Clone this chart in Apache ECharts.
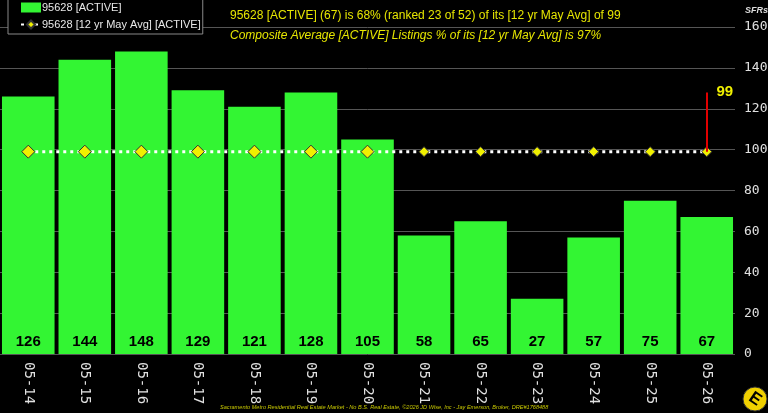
<!DOCTYPE html>
<html>
<head>
<meta charset="utf-8">
<script src="https://cdn.jsdelivr.net/npm/echarts@6/dist/echarts.min.js"></script>
<style>
  html, body { margin: 0; padding: 0; background: #000; }
  #chart { width: 768px; height: 413px; }
</style>
</head>
<body>
<div id="chart"></div>
<script>
var years = ["05-14", "05-15", "05-16", "05-17", "05-18", "05-19", "05-20",
    "05-21", "05-22", "05-23", "05-24", "05-25", "05-26"];
var active = [126, 144, 148, 129, 121, 128, 105, 58, 65, 27, 57, 75, 67];
var avg12 = [99, 99, 99, 99, 99, 99, 99, 99, 99, 99, 99, 99, 99];
var yTicks = [0, 20, 40, 60, 80, 100, 120, 140, 160];

var lastIdx = years.length - 1;
var myChart = echarts.init(document.getElementById("chart"));
var option = {
    backgroundColor: "#000",
    animation: false,
    title: [{
        text: "95628 [ACTIVE] (67) is 68% (ranked 23 of 52) of its [12 yr May Avg] of 99",
        left: 230, top: 10, padding: 0,
        textStyle: { color: "#e6e600", fontSize: 12, fontWeight: "normal", fontFamily: "Liberation Sans" }
    }, {
        text: "Composite Average [ACTIVE] Listings % of its [12 yr May Avg] is 97%",
        left: 230, top: 30, padding: 0,
        textStyle: { color: "#e6e600", fontSize: 12, fontWeight: "normal", fontStyle: "italic", fontFamily: "Liberation Sans" }
    }, {
        text: "SFRs",
        left: 745, top: 6, padding: 0,
        textStyle: { color: "#ddd", fontSize: 9, fontWeight: "bold", fontStyle: "italic", fontFamily: "Liberation Sans" }
    }, {
        text: "Sacramento Metro Residential Real Estate Market - No B.S. Real Estate, ©2026 JD Wise, Inc - Jay Emerson, Broker, DRE#1768488",
        left: 220, top: 404, padding: 0,
        textStyle: { color: "#c8c800", fontSize: 5.6, fontWeight: "normal", fontStyle: "italic", fontFamily: "Liberation Sans" }
    }],
    legend: {
        orient: "vertical",
        left: 8, top: -1,
        backgroundColor: "#000",
        borderColor: "#888",
        borderWidth: 1,
        padding: [3, 2, 4, 12],
        itemGap: 6,
        itemWidth: 20,
        itemHeight: 10,
        textStyle: { color: "#e8e8e8", fontSize: 11, fontFamily: "Liberation Sans", padding: [0, 0, 0, -4] },
        data: [{ name: "95628 [ACTIVE]", icon: "rect" }, { name: "95628 [12 yr May Avg] [ACTIVE]" }]
    },
    grid: { left: 0, right: 33, top: 27, bottom: 59, outerBoundsMode: "none", containLabel: false },
    xAxis: {
        type: "category",
        data: years,
        axisLine: { show: false },
        axisTick: { show: false },
        axisLabel: {
            rotate: -90,
            color: "#e0e0e0",
            fontSize: 14,
            fontFamily: "DejaVu Sans Mono",
            margin: 8
        }
    },
    yAxis: {
        type: "value",
        position: "right",
        min: 0, max: 160, interval: 20,
        axisLine: { show: false },
        axisTick: { show: false },
        splitLine: { lineStyle: { color: "#555", width: 1 } },
        axisLabel: {
            color: "#e0e0e0",
            fontSize: 13,
            fontFamily: "DejaVu Sans Mono",
            margin: 9,
            formatter: function(v) { return yTicks.indexOf(v) >= 0 ? String(v) : ""; }
        }
    },
    series: [{
        name: "95628 [ACTIVE]",
        type: "bar",
        data: active,
        barCategoryGap: "7%",
        itemStyle: { color: "#33f533" },
        label: {
            show: true,
            position: "insideBottom",
            distance: 5,
            color: "#000",
            fontSize: 15,
            fontWeight: "bold",
            fontFamily: "Liberation Sans"
        },
        z: 2
    }, {
        name: "95628 [12 yr May Avg] [ACTIVE]",
        type: "line",
        data: avg12,
        symbol: "diamond",
        symbolSize: function(v, p) { return p.dataIndex < 7 ? 13 : 10; },
        itemStyle: { color: "#f0f000", borderColor: "#333", borderWidth: 1 },
        lineStyle: { color: "#fff", width: 3, type: [3, 4], cap: "butt" },
        z: 3,
        markLine: {
            symbol: "none",
            silent: true,
            lineStyle: { color: "#e00000", width: 2, type: "solid" },
            label: {
                show: true,
                position: "end",
                formatter: String(avg12[lastIdx]),
                color: "#f0f000",
                fontSize: 15,
                fontWeight: "bold",
                fontFamily: "Liberation Sans",
                offset: [18, 12]
            },
            data: [[
                { coord: [lastIdx, avg12[lastIdx]] },
                { coord: [lastIdx, 128] }
            ]]
        }
    }],
    graphic: [{
        type: "circle",
        shape: { cx: 755, cy: 399, r: 12 },
        style: { fill: "#f0d000", stroke: "#333", lineWidth: 1 }
    }, {
        type: "text",
        x: 755, y: 399,
        rotation: -0.6,
        style: {
            text: "E", fill: "#000", fontSize: 17, fontWeight: "bold",
            fontFamily: "Liberation Sans", align: "center", verticalAlign: "middle"
        }
    }]
};
myChart.setOption(option);
</script>
</body>
</html>
